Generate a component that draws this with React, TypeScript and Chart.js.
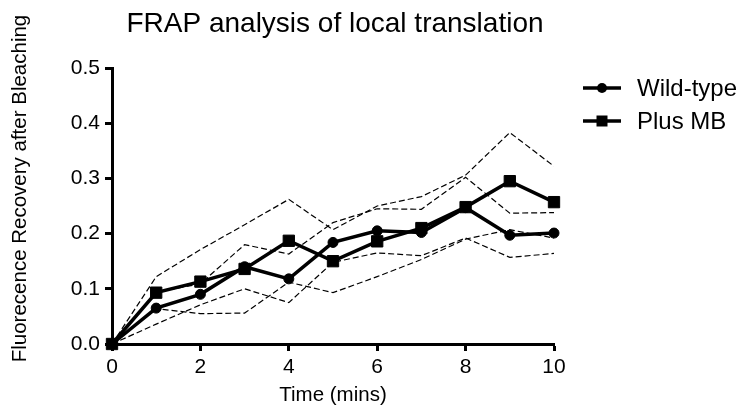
import React, { useEffect, useRef } from 'react';
import { Chart, registerables } from 'chart.js';

Chart.register(...registerables);

const FONT = '"Liberation Sans", Arial, Helvetica, sans-serif';

const chartTitle = 'FRAP analysis of local translation';
const xAxisTitle = 'Time (mins)';
const yAxisTitle = 'Fluorecence Recovery after Bleaching';
const seriesNames = ['Wild-type', 'Plus MB'];

const minutes = [0, 1, 2, 3, 4, 5, 6, 7, 8, 9, 10];
const wildType = [0, 0.065, 0.09, 0.14, 0.118, 0.184, 0.205, 0.202, 0.247, 0.197, 0.201];
const wildTypeUpper = [0, 0.094, 0.109, 0.18, 0.163, 0.22, 0.245, 0.244, 0.302, 0.237, 0.238];
const wildTypeLower = [0, 0.036, 0.071, 0.1, 0.075, 0.148, 0.165, 0.16, 0.192, 0.157, 0.164];
const plusMB = [0, 0.093, 0.113, 0.136, 0.187, 0.15, 0.186, 0.21, 0.248, 0.295, 0.257];
const plusMBUpper = [0, 0.122, 0.171, 0.216, 0.262, 0.207, 0.25, 0.267, 0.306, 0.383, 0.322];
const plusMBLower = [0, 0.064, 0.055, 0.056, 0.112, 0.093, 0.122, 0.153, 0.19, 0.207, 0.192];

const xMin = 0;
const xMax = 10;
const xStep = 2;
const yMin = 0;
const yMax = 0.5;
const yStep = 0.1;

const toPoints = (ys: number[]) => minutes.map((m, i) => ({ x: m, y: ys[i] }));

const mainLine = (label: string, ys: number[], style: string, radius: number) => ({
  label,
  data: toPoints(ys),
  borderColor: '#000',
  backgroundColor: '#000',
  borderWidth: 3.5,
  pointStyle: style,
  pointRadius: radius,
  pointBorderWidth: 1,
  pointBackgroundColor: '#000',
  pointBorderColor: '#000',
  tension: 0,
  clip: false as any,
});

const dashLine = (label: string, ys: number[]) => ({
  label,
  data: toPoints(ys),
  borderColor: '#000',
  borderWidth: 1.2,
  borderDash: [6, 3],
  pointRadius: 0,
  tension: 0,
  clip: false as any,
});

const textPlugin = {
  id: 'customTexts',
  afterDraw(chart: any) {
    const ctx = chart.ctx as CanvasRenderingContext2D;
    const area = chart.chartArea;
    ctx.save();
    ctx.fillStyle = '#000';
    ctx.textAlign = 'center';
    ctx.textBaseline = 'alphabetic';

    ctx.font = `28px ${FONT}`;
    ctx.fillText(chartTitle, (area.left + area.right) / 2 + 2, 32);

    ctx.font = `20.5px ${FONT}`;
    ctx.fillText(xAxisTitle, (area.left + area.right) / 2, 401);

    ctx.save();
    ctx.translate(26, 188.5);
    ctx.rotate(-Math.PI / 2);
    ctx.fillText(yAxisTitle, 0, 0);
    ctx.restore();

    // legend
    const legendX1 = 583;
    const legendX2 = 621;
    const rows = [88, 121];
    ctx.strokeStyle = '#000';
    ctx.lineWidth = 3.5;
    ctx.font = `24px ${FONT}`;
    ctx.textAlign = 'left';
    ctx.textBaseline = 'middle';
    seriesNames.forEach((name, i) => {
      const y = rows[i];
      ctx.beginPath();
      ctx.moveTo(legendX1, y);
      ctx.lineTo(legendX2, y);
      ctx.stroke();
      const cx = (legendX1 + legendX2) / 2;
      ctx.beginPath();
      if (i === 0) {
        ctx.arc(cx, y, 5, 0, Math.PI * 2);
      } else {
        ctx.rect(cx - 5.5, y - 5.5, 11, 11);
      }
      ctx.fill();
      ctx.fillText(name, 637, y + 1);
    });
    ctx.restore();
  },
};

export default function App() {
  const canvasRef = useRef<HTMLCanvasElement | null>(null);

  useEffect(() => {
    const canvas = canvasRef.current;
    if (!canvas) return;
    const chart = new Chart(canvas, {
      type: 'line',
      data: {
        datasets: [
          mainLine(seriesNames[0], wildType, 'circle', 5),
          mainLine(seriesNames[1], plusMB, 'rect', 8),
          dashLine('Wild-type upper', wildTypeUpper),
          dashLine('Wild-type lower', wildTypeLower),
          dashLine('Plus MB upper', plusMBUpper),
          dashLine('Plus MB lower', plusMBLower),
        ] as any,
      },
      options: {
        responsive: false,
        animation: false,
        events: [],
        layout: { padding: { top: 68, right: 200, bottom: 0, left: 0 } },
        plugins: {
          legend: { display: false },
          title: { display: false },
          tooltip: { enabled: false },
        },
        scales: {
          x: {
            type: 'linear',
            min: xMin,
            max: xMax,
            afterFit: (s: any) => {
              s.height = 74;
            },
            ticks: {
              stepSize: xStep,
              color: '#000',
              padding: 4,
              font: { family: FONT, size: 21 },
            },
            grid: {
              display: true,
              drawOnChartArea: false,
              drawTicks: true,
              tickLength: 7,
              tickWidth: 3,
              tickColor: '#000',
            },
            border: { display: true, color: '#000', width: 3 },
          },
          y: {
            type: 'linear',
            min: yMin,
            max: yMax,
            afterFit: (s: any) => {
              s.width = 112;
            },
            ticks: {
              stepSize: yStep,
              color: '#000',
              padding: 5,
              font: { family: FONT, size: 21 },
              callback: (v: any) => Number(v).toFixed(1),
            },
            grid: {
              display: true,
              drawOnChartArea: false,
              drawTicks: true,
              tickLength: 7,
              tickWidth: 3,
              tickColor: '#000',
            },
            border: { display: true, color: '#000', width: 3 },
          },
        },
      },
      plugins: [textPlugin],
    });
    return () => chart.destroy();
  }, []);

  return (
    <div style={{ position: 'absolute', left: 0, top: 0, width: 754, height: 418, background: '#fff' }}>
      <canvas ref={canvasRef} width={754} height={418} style={{ display: 'block' }} />
    </div>
  );
}
